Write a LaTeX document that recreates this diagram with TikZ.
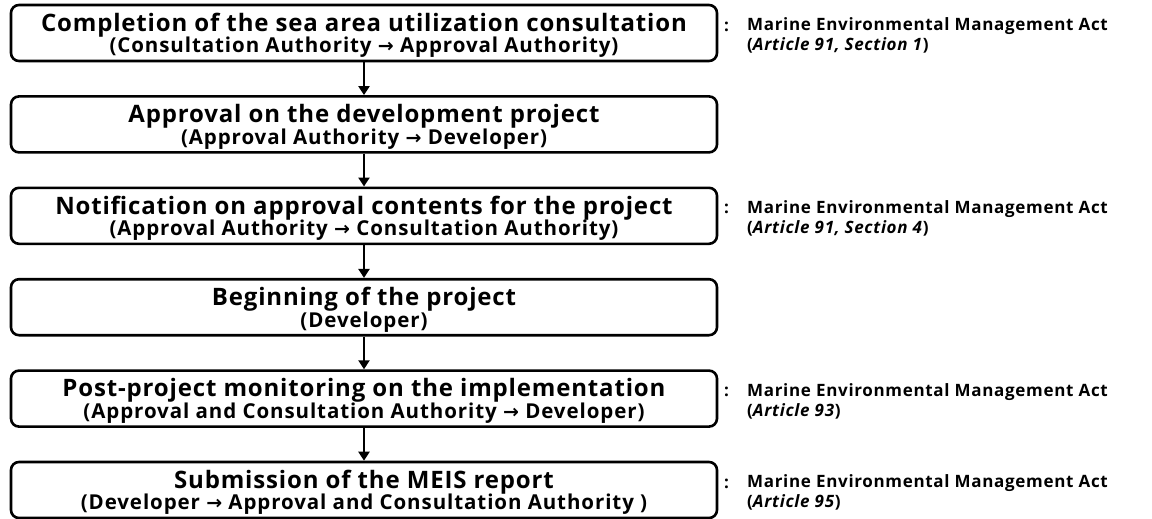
\documentclass[tikz,border=0pt]{standalone}
\usepackage{fontspec}
\setmainfont{Open Sans}
\newfontfamily\arrfont{DejaVu Sans}
\usetikzlibrary{arrows.meta}
\newcommand{\ra}{{\arrfont\fontsize{19}{20}\selectfont →}}
\tikzset{
  stepbox/.style={draw, line width=2.6pt, rounded corners=8pt, minimum width=706pt, minimum height=56pt, inner sep=0pt},
  titletxt/.style={font=\bfseries\fontsize{24}{26}\selectfont\addfontfeature{LetterSpace=3.5}, inner sep=0pt},
  subtxt/.style={font=\bfseries\fontsize{20.5}{22}\selectfont\addfontfeature{LetterSpace=4.5}, inner sep=0pt},
  lawtxt/.style={font=\bfseries\fontsize{17}{19}\selectfont\addfontfeature{LetterSpace=4}, inner sep=0pt, anchor=west},
  flow/.style={line width=2.4pt, -{Triangle[length=9pt,width=11pt]}}
}
\begin{document}
\begin{tikzpicture}[x=1pt,y=-1pt]
\useasboundingbox (0,0) rectangle (1152,519);
\foreach \i/\t/\s in {
  0/{Completion of the sea area utilization consultation}/{(Consultation Authority \ra{} Approval Authority)},
  1/{Approval on the development project}/{(Approval Authority \ra{} Developer)},
  2/{Notification on approval contents for the project}/{(Approval Authority \ra{} Consultation Authority)},
  3/{Beginning of the project}/{(Developer)},
  4/{Post-project monitoring on the implementation}/{(Approval and Consultation Authority \ra{} Developer)},
  5/{Submission of the MEIS report}/{(Developer \ra{} Approval and Consultation Authority )}}{
  \pgfmathsetmacro{\top}{5+91.4*\i}
  \node[stepbox] (b\i) at (364,\top+28) {};
  \node[titletxt] (t\i) at (364,\top+20) {\t};
  \node[subtxt] (s\i) at (364,\top+42.5) {\s};
}
\foreach \i in {0,...,4}{
  \pgfmathtruncatemacro{\j}{\i+1}
  \draw[flow] (b\i.south) -- (b\j.north);
}
\foreach \i/\a in {0/{\textit{Article 91, Section 1}}, 2/{\textit{Article 91, Section 4}}, 4/{\textit{Article 93}}, 5/{\textit{Article 95}}}{
  \pgfmathsetmacro{\top}{5+91.4*\i}
  \node[lawtxt] (c\i) at (724,\top+21.5) {:};
  \node[lawtxt] (l\i) at (747,\top+21.5) {Marine Environmental Management Act};
  \node[lawtxt] (m\i) at (747,\top+40.5) {(\a)};
}
\end{tikzpicture}
\end{document}
